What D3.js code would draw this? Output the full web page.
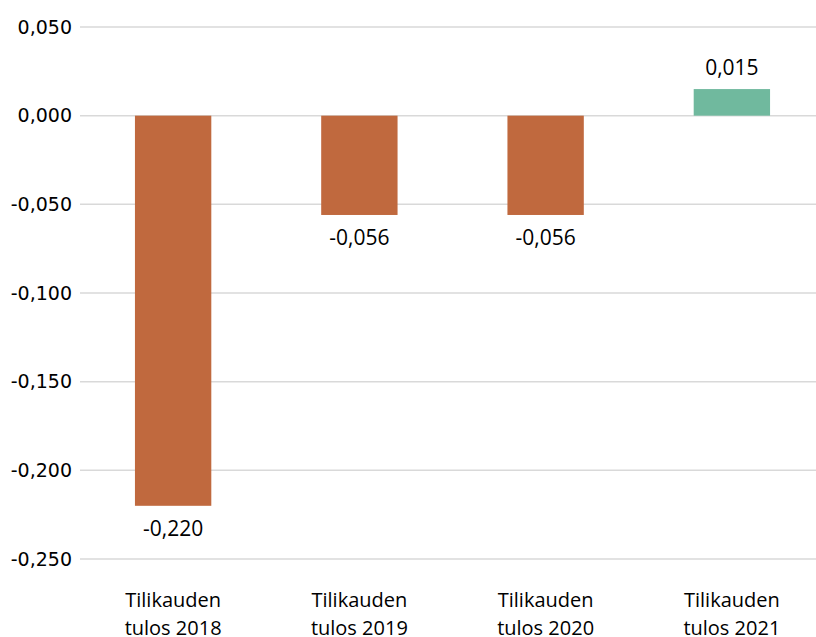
<!DOCTYPE html>
<html>
<head>
<meta charset="utf-8">
<script src="https://cdn.jsdelivr.net/npm/d3@7"></script>
<style>
  body { margin: 0; background: #fff; }
  svg text { fill: #000; }
</style>
</head>
<body>
<div id="chart"></div>
<script>
// data
const categories = ['Tilikauden tulos 2018', 'Tilikauden tulos 2019', 'Tilikauden tulos 2020', 'Tilikauden tulos 2021']
const values = [-0.220, -0.056, -0.056, 0.015]
const yTicks = [0.05, 0, -0.05, -0.1, -0.15, -0.2, -0.25]

const width = 816, height = 637
const fmt = (v) => d3.format('.3f')(v).replace('.', ',').replace('−', '-')

const svg = d3.select('#chart').append('svg')
  .attr('width', width)
  .attr('height', height)

const x = d3.scaleBand()
  .domain(categories)
  .range([80, 825])
  .paddingInner(0.59)
  .paddingOuter(0.295)

const y = d3.scaleLinear()
  .domain([-0.25, 0.05])
  .range([559, 27])

// gridlines
svg.append('g').selectAll('line')
  .data(yTicks).enter()
  .append('line')
    .attr('x1', 80)
    .attr('x2', width)
    .attr('y1', (d) => y(d))
    .attr('y2', (d) => y(d))
    .attr('stroke', '#d9d9d9')
    .attr('stroke-width', 1.5)

// y labels
svg.append('g').selectAll('text')
  .data(yTicks).enter()
  .append('text')
    .attr('x', 72)
    .attr('y', (d) => y(d))
    .attr('dy', '0.35em')
    .attr('text-anchor', 'end')
    .style('font-family', 'DejaVu Sans, sans-serif')
    .style('font-size', '19px')
    .text((d) => fmt(d))

// bars
svg.append('g').selectAll('rect')
  .data(values).enter()
  .append('rect')
    .attr('x', (d, i) => x(categories[i]))
    .attr('width', x.bandwidth())
    .attr('y', (d) => y(Math.max(0, d)))
    .attr('height', (d) => Math.abs(y(d) - y(0)))
    .attr('fill', (d) => d < 0 ? '#c0693e' : '#70b99e')

// value labels
svg.append('g').selectAll('text')
  .data(values).enter()
  .append('text')
    .attr('x', (d, i) => x(categories[i]) + x.bandwidth() / 2)
    .attr('y', (d) => d < 0 ? y(d) + 23 : y(d) - 21)
    .attr('dy', '0.35em')
    .attr('text-anchor', 'middle')
    .style('font-family', 'Open Sans, sans-serif')
    .style('font-size', '21px')
    .text((d) => fmt(d))

// category labels
const cat = svg.append('g').selectAll('text')
  .data(categories).enter()
  .append('text')
    .attr('x', (d) => x(d) + x.bandwidth() / 2)
    .attr('y', 600)
    .attr('text-anchor', 'middle')
    .style('font-family', 'Open Sans, sans-serif')
    .style('font-size', '20px')

cat.each(function(d) {
  const parts = d.split(' ')
  const t = d3.select(this)
  t.append('tspan').attr('x', x(d) + x.bandwidth() / 2).attr('dy', '0.35em').text(parts[0])
  t.append('tspan').attr('x', x(d) + x.bandwidth() / 2).attr('dy', '28').text(parts.slice(1).join(' '))
})
</script>
</body>
</html>
